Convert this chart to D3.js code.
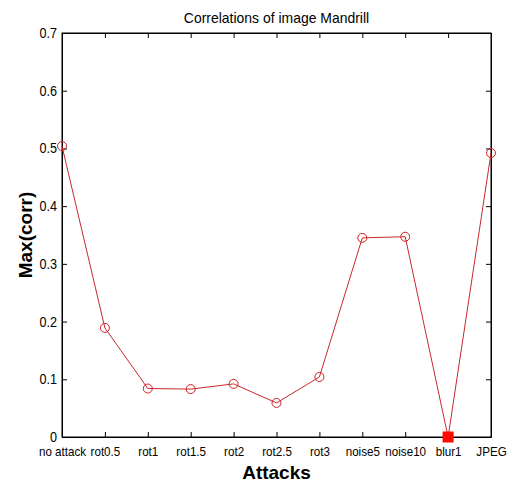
<!DOCTYPE html>
<html>
<head>
<meta charset="utf-8">
<script src="https://cdn.jsdelivr.net/npm/d3@7"></script>
<style>
  html, body { margin: 0; padding: 0; background: #fff; }
  text { font-family: "Liberation Sans", Arial, sans-serif; }
  text.bold { font-weight: bold; }
</style>
</head>
<body>
<svg id="chart" width="508" height="489"></svg>
<script>
// Maximum correlation per attack for the Mandrill image
const attacks = ["no attack", "rot0.5", "rot1", "rot1.5", "rot2", "rot2.5", "rot3", "noise5", "noise10", "blur1", "JPEG"];
const maxCorr = [0.504, 0.189, 0.084, 0.083, 0.092, 0.059, 0.104, 0.345, 0.347, 0.0, 0.492];
const highlighted = ["blur1"];
const yTicks = [0, 0.1, 0.2, 0.3, 0.4, 0.5, 0.6, 0.7];

// narrow a text horizontally to a fraction of its natural width
function condense(sel, k) {
  sel.each(function () {
    const w = this.getComputedTextLength();
    d3.select(this).attr("textLength", w * k).attr("lengthAdjust", "spacingAndGlyphs");
  });
}

(function drawChart() {
  const svg = d3.select("#chart");
  const L = 62, R = 491, T = 33, B = 437;

  const x = d3.scalePoint().domain(attacks).range([L, R]);
  const y = d3.scaleLinear().domain([0, 0.7]).range([B, T]);

  // frame
  svg.append("rect").attr("x", L).attr("y", T).attr("width", R - L).attr("height", B - T)
    .attr("fill", "#fff").attr("stroke", "#000").attr("stroke-width", 1);

  // axes with inward ticks
  const fs = "13.5px";
  const axB = svg.append("g").attr("transform", `translate(0,${B})`)
    .call(d3.axisBottom(x).tickSizeInner(-5).tickSizeOuter(0).tickPadding(9));
  axB.selectAll("text").style("font-size", fs).attr("fill", "#000").call(condense, 0.86);
  const axT = svg.append("g").attr("transform", `translate(0,${T})`)
    .call(d3.axisTop(x).tickSizeInner(-5).tickSizeOuter(0).tickFormat(""));
  const axL = svg.append("g").attr("transform", `translate(${L},0)`)
    .call(d3.axisLeft(y).tickValues(yTicks).tickSizeInner(-5).tickSizeOuter(0).tickPadding(5)
      .tickFormat(d => d === 0 ? "0" : d3.format(".1f")(d)));
  axL.selectAll("text").style("font-size", "14px").attr("fill", "#000").call(condense, 0.9);
  const axR = svg.append("g").attr("transform", `translate(${R},0)`)
    .call(d3.axisRight(y).tickValues(yTicks).tickSizeInner(-5).tickSizeOuter(0).tickFormat(""));
  [axB, axT, axL, axR].forEach(g => {
    g.select(".domain").attr("stroke", "#000");
    g.selectAll(".tick line").attr("stroke", "#000");
  });

  // series line
  const pts = attacks.map((a, i) => ({a, v: maxCorr[i]}));
  svg.append("path").datum(pts)
    .attr("fill", "none").attr("stroke", "#c8282c").attr("stroke-width", 1)
    .attr("d", d3.line().x(d => x(d.a)).y(d => y(d.v)));

  // circle markers
  svg.selectAll("circle.m").data(pts.filter(d => !highlighted.includes(d.a))).enter()
    .append("circle").attr("class", "m")
    .attr("cx", d => x(d.a)).attr("cy", d => y(d.v)).attr("r", 4.5)
    .attr("fill", "none").attr("stroke", "#d42020").attr("stroke-width", 1);

  // highlighted marker
  svg.selectAll("rect.h").data(pts.filter(d => highlighted.includes(d.a))).enter()
    .append("rect").attr("class", "h")
    .attr("x", d => x(d.a) - 5.5).attr("y", d => y(d.v) - 5.5)
    .attr("width", 11).attr("height", 11).attr("fill", "#ff0a00");

  // title and axis labels
  svg.append("text").attr("x", (L + R) / 2).attr("y", 23).attr("text-anchor", "middle")
    .style("font-size", "15px").text("Correlations of image Mandrill").call(condense, 0.93);
  svg.append("text").attr("class", "bold").attr("x", (L + R) / 2).attr("y", 479).attr("text-anchor", "middle")
    .style("font-size", "19px").text("Attacks");
  svg.append("text").attr("class", "bold").attr("transform", `translate(32,${(T + B) / 2}) rotate(-90)`)
    .attr("text-anchor", "middle")
    .style("font-size", "19px").text("Max(corr)");
})();
</script>
</body>
</html>
